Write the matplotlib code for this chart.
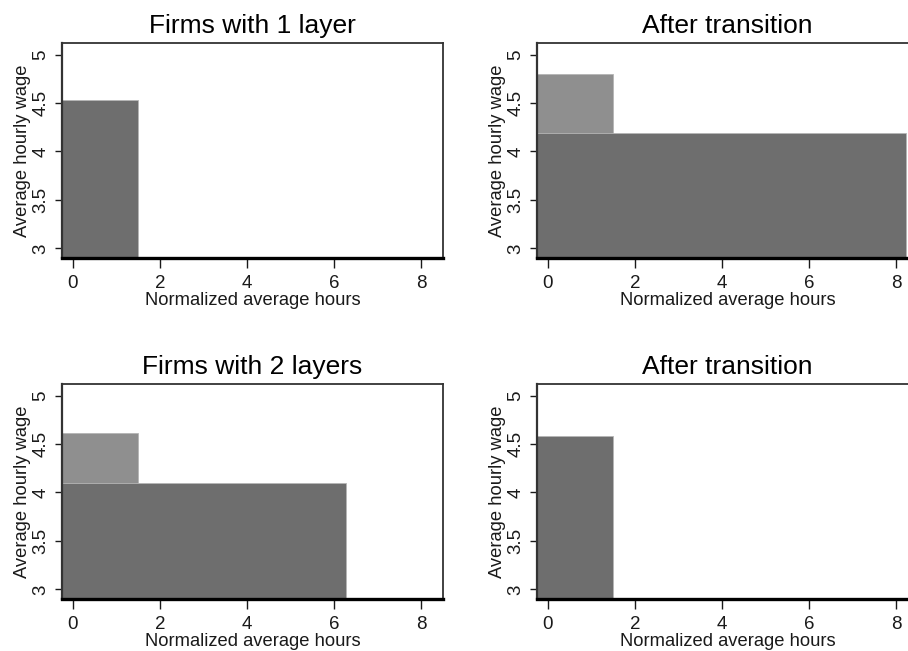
import matplotlib
matplotlib.use("Agg")
import matplotlib.pyplot as plt

plt.rcParams['font.family'] = ['Liberation Sans', 'DejaVu Sans']

# panel titles, row by row
titles = ["Firms with 1 layer", "After transition",
          "Firms with 2 layers", "After transition"]

# upper layer (managers): normalized hours and wage, None when absent
top_hours = [None, 1.5, 1.5, None]
top_wage = [None, 4.80, 4.61, None]

# lower layer (workers / single layer)
base_hours = [1.5, 8.23, 6.27, 1.5]
base_wage = [4.53, 4.19, 4.10, 4.58]

xticks = [0, 2, 4, 6, 8]
yticks = [3, 3.5, 4, 4.5, 5]
xlabel = "Normalized average hours"
ylabel = "Average hourly wage"

X_LO, X_HI = -0.25, 8.5
Y_LO, Y_HI = 2.9, 5.12

DARK = "#6e6e6e"
LIGHT = "#8f8f8f"
EDGE = "#b5b5b5"
INK = "#1a1a1a"

fig = plt.figure(figsize=(9.08, 6.51), dpi=100)
fig.patch.set_facecolor("white")

W, H = 908, 651
ax_w, ax_h = 381, 215
lefts = [62, 537, 62, 537]
tops = [43, 43, 384, 384]

for i in range(4):
    ax = fig.add_axes([lefts[i] / W, 1 - (tops[i] + ax_h) / H, ax_w / W, ax_h / H])

    if top_hours[i] is not None:
        ax.bar(X_LO, top_wage[i], width=top_hours[i] - X_LO, bottom=0,
               align="edge", color=LIGHT, edgecolor=EDGE, linewidth=0.6, zorder=2)
    ax.bar(X_LO, base_wage[i], width=base_hours[i] - X_LO, bottom=0,
           align="edge", color=DARK, edgecolor=EDGE, linewidth=0.6, zorder=3)

    ax.set_xlim(X_LO, X_HI)
    ax.set_ylim(Y_LO, Y_HI)
    ax.set_xticks(xticks)
    ax.set_yticks(yticks)
    ax.set_yticklabels([f"{t:g}" for t in yticks], rotation=90, va="center")

    ax.tick_params(axis="x", length=7, width=1, pad=5, labelsize=13.5,
                   colors=INK, direction="out")
    ax.tick_params(axis="y", length=5, width=1, pad=4, labelsize=13.5,
                   colors=INK, direction="out")

    ax.set_xlabel(xlabel, fontsize=13.2, color=INK, labelpad=0)
    ax.set_ylabel(ylabel, fontsize=13.2, color=INK, labelpad=1)
    ax.set_title(titles[i], fontsize=19, color="black", pad=7)

    for side in ["top", "right"]:
        ax.spines[side].set_linewidth(1.3)
        ax.spines[side].set_color("#333333")
    ax.spines["left"].set_linewidth(1.6)
    ax.spines["left"].set_color("#333333")
    ax.spines["bottom"].set_linewidth(2.4)
    ax.spines["bottom"].set_color("black")
    for s in ax.spines.values():
        s.set_zorder(5)

fig.savefig("out.png", dpi=100, facecolor="white")
